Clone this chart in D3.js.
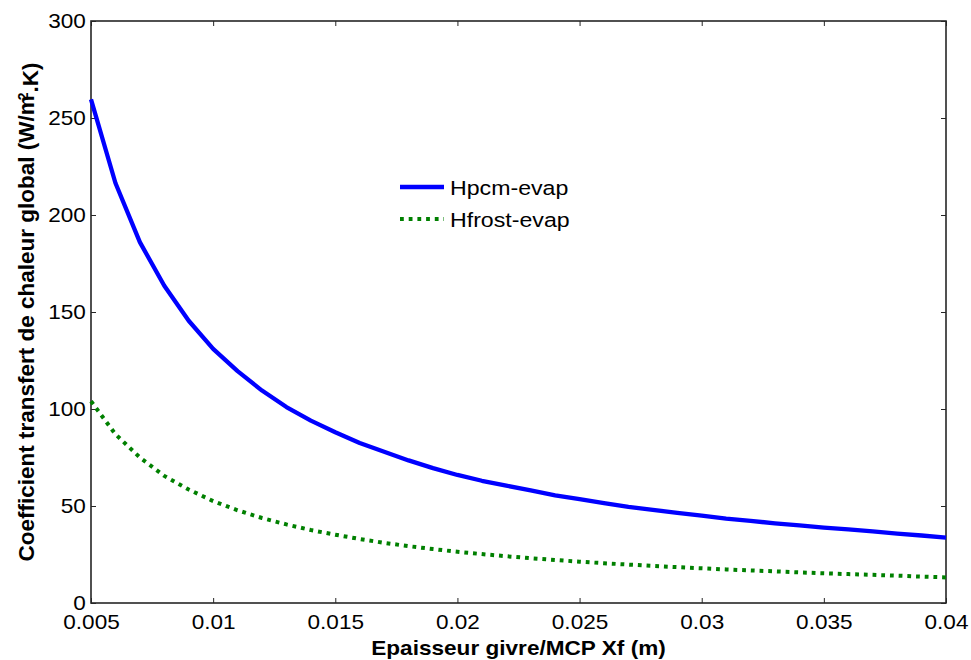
<!DOCTYPE html>
<html>
<head>
<meta charset="utf-8">
<script src="https://cdn.jsdelivr.net/npm/d3@7"></script>
<style>
  html, body { margin: 0; padding: 0; background: #fff; }
  svg { display: block; font-family: "Liberation Sans", Arial, Helvetica, sans-serif; }
</style>
</head>
<body>
<svg id="chart" width="971" height="660"></svg>
<script>
// Frost / PCM thickness (m)
const thickness = [
  0.005, 0.006, 0.007, 0.008, 0.009, 0.010, 0.011, 0.012, 0.013, 0.014,
  0.015, 0.016, 0.017, 0.018, 0.019, 0.020, 0.021, 0.022, 0.023, 0.024,
  0.025, 0.026, 0.027, 0.028, 0.029, 0.030, 0.031, 0.032, 0.033, 0.034,
  0.035, 0.036, 0.037, 0.038, 0.039, 0.040
];
// Overall heat transfer coefficient, PCM side (W/m2.K)
const hpcmEvap = [
  259.6, 216.5, 186.0, 163.5, 145.5, 131.0, 119.5, 109.5, 101.0, 94.0,
  88.0, 82.5, 78.0, 73.5, 69.5, 66.0, 63.0, 60.5, 58.0, 55.5,
  53.5, 51.5, 49.5, 48.0, 46.5, 45.0, 43.5, 42.3, 41.1, 40.0,
  38.9, 37.9, 36.9, 35.8, 34.8, 33.7
];
// Overall heat transfer coefficient, frost side (W/m2.K)
const hfrostEvap = [
  104.0, 87.0, 75.0, 65.5, 58.5, 52.5, 47.8, 43.8, 40.5, 37.6,
  35.2, 33.0, 31.0, 29.3, 27.8, 26.4, 25.2, 24.1, 23.1, 22.2,
  21.3, 20.5, 19.8, 19.1, 18.5, 17.9, 17.3, 16.8, 16.3, 15.8,
  15.3, 14.9, 14.5, 14.1, 13.6, 13.2
];
const seriesNames = ["Hpcm-evap", "Hfrost-evap"];
const xTickValues = [0.005, 0.01, 0.015, 0.02, 0.025, 0.03, 0.035, 0.04];
const xTickLabels = ["0.005", "0.01", "0.015", "0.02", "0.025", "0.03", "0.035", "0.04"];
const yTickValues = [0, 50, 100, 150, 200, 250, 300];
const yTickLabels = ["0", "50", "100", "150", "200", "250", "300"];

const svg = d3.select("#chart");
const W = 971, H = 660;
const m = { left: 91, right: 25, top: 21, bottom: 57 };
const x0 = m.left, x1 = W - m.right, y0 = H - m.bottom, y1 = m.top;
const stretch = 1.13;

svg.append("rect").attr("width", W).attr("height", H).attr("fill", "#fff");

const x = d3.scaleLinear().domain([0.005, 0.04]).range([x0, x1]);
const y = d3.scaleLinear().domain([0, 300]).range([y0, y1]);

// Plot frame
svg.append("rect")
  .attr("x", x0).attr("y", y1)
  .attr("width", x1 - x0).attr("height", y0 - y1)
  .attr("fill", "none").attr("stroke", "#262626").attr("stroke-width", 1.6);

function styleAxis(g) {
  g.select(".domain").remove();
  g.selectAll(".tick line").attr("stroke", "#262626").attr("stroke-width", 1);
  g.selectAll(".tick text")
    .attr("fill", "#000")
    .style("font-size", "20px");
}

// Bottom axis with labels
const gx = svg.append("g").attr("transform", `translate(0,${y0})`)
  .call(d3.axisBottom(x).tickValues(xTickValues)
    .tickFormat((d, i) => xTickLabels[i])
    .tickSizeInner(-5).tickSizeOuter(0).tickPadding(12));
styleAxis(gx);
gx.selectAll(".tick text").attr("transform", `scale(${stretch},1)`);

// Left axis with labels
const gy = svg.append("g").attr("transform", `translate(${x0},0)`)
  .call(d3.axisLeft(y).tickValues(yTickValues)
    .tickFormat((d, i) => yTickLabels[i])
    .tickSizeInner(-5).tickSizeOuter(0).tickPadding(4.5));
styleAxis(gy);
gy.selectAll(".tick text").attr("transform", `scale(${stretch},1)`);

// Mirrored ticks on top and right
const gt = svg.append("g").attr("transform", `translate(0,${y1})`)
  .call(d3.axisTop(x).tickValues(xTickValues).tickFormat("")
    .tickSizeInner(-5).tickSizeOuter(0));
styleAxis(gt);
const gr = svg.append("g").attr("transform", `translate(${x1},0)`)
  .call(d3.axisRight(y).tickValues(yTickValues).tickFormat("")
    .tickSizeInner(-5).tickSizeOuter(0));
styleAxis(gr);

// Curves
const line = d3.line()
  .x((d, i) => x(thickness[i]))
  .y(d => y(d));

const plot = svg.append("g");
plot.append("path")
  .datum(hpcmEvap)
  .attr("d", line)
  .attr("fill", "none")
  .attr("stroke", "#0000ff")
  .attr("stroke-width", 4.3)
  .attr("stroke-linejoin", "round");

plot.append("path")
  .datum(hfrostEvap)
  .attr("d", line)
  .attr("fill", "none")
  .attr("stroke", "#008000")
  .attr("stroke-width", 4)
  .attr("stroke-dasharray", "3.8,4.9");

// Legend
const legend = svg.append("g");
const legendItems = [
  { name: seriesNames[0], color: "#0000ff", dash: null, width: 4.3, y: 187 },
  { name: seriesNames[1], color: "#008000", dash: "3.8,4.9", width: 4, y: 219 }
];
legendItems.forEach(it => {
  legend.append("line")
    .attr("x1", 400).attr("x2", 444)
    .attr("y1", it.y).attr("y2", it.y)
    .attr("stroke", it.color)
    .attr("stroke-width", it.width)
    .attr("stroke-dasharray", it.dash);
  legend.append("g")
    .attr("transform", `translate(450,${it.y}) scale(${stretch},1)`)
    .append("text")
    .attr("dominant-baseline", "central")
    .attr("dy", "0.05em")
    .style("font-size", "20.5px")
    .attr("fill", "#000")
    .text(it.name);
});

// Axis titles
svg.append("g")
  .attr("transform", `translate(${(x0 + x1) / 2},655) scale(${stretch},1)`)
  .append("text")
  .attr("text-anchor", "middle")
  .style("font-size", "20px")
  .style("font-weight", "bold")
  .text("Epaisseur givre/MCP Xf (m)");

const ylab = svg.append("text")
  .attr("transform", `translate(34,${(y0 + y1) / 2}) rotate(-90)`)
  .attr("text-anchor", "middle")
  .style("font-size", "22.5px")
  .style("font-weight", "bold");
ylab.append("tspan").text("Coefficient transfert de chaleur global (W/m");
ylab.append("tspan").attr("dy", "-0.45em").attr("dx", "-0.35em").style("font-size", "14px").text("2");
ylab.append("tspan").attr("dy", "0.45em").text(".K)");
</script>
</body>
</html>
